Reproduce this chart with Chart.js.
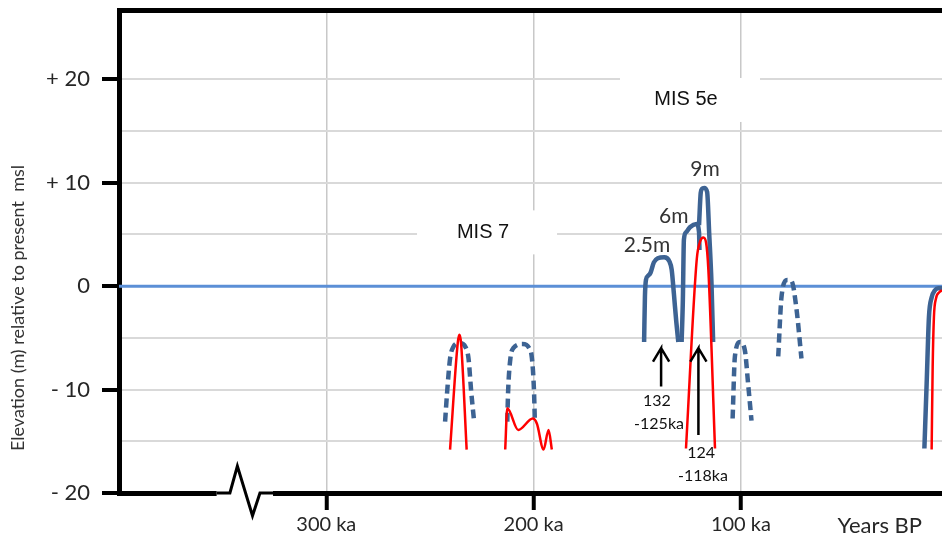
<!DOCTYPE html>
<html>
<head>
<meta charset="utf-8">
<script src="https://cdn.jsdelivr.net/npm/chart.js@4.4.1/dist/chart.umd.min.js"></script>
<style>
  body { margin: 0; background: #fff; }
  #box { width: 942px; height: 542px; position: relative; }
</style>
</head>
<body>
<div id="box"><canvas id="grafico"></canvas></div>
<script>
// x = ka BP (reversed), y = elevation in m relative to present msl
var xTicks = [300, 200, 100, 33];
var xTickLabels = ["300 ka", "200 ka", "100 ka", "Years BP"];
var yTicks = [-20, -15, -10, -5, 0, 5, 10, 15, 20];

var zeroKa = [400, 3];
var zeroM = [0, 0];

// MIS 9 (two highstands)
var dome1Ka = [242.7, 241.7, 240.3, 238.8, 235.8, 232.8, 231.4, 230.1, 228.7];
var dome1M = [-13.1, -10.2, -7.0, -5.9, -5.5, -5.9, -7.0, -10.2, -13.1];
var red1Ka = [240.3, 236.6, 235.8, 235.0, 232.3];
var red1M = [-15.8, -5.5, -4.7, -5.5, -15.8];

var dome2Ka = [212.7, 212.3, 211.2, 209.8, 205.3, 202.1, 200.8, 199.8, 199.4];
var dome2M = [-13.1, -10.2, -7.0, -6.0, -5.6, -6.0, -7.0, -10.2, -13.1];
var red2Ka = [213.7, 212.7, 207.4, 200.4, 198.4, 195.2, 192.8, 191.2];
var red2M = [-15.8, -11.8, -13.9, -12.8, -13.3, -15.8, -13.9, -15.8];

// MIS 5e: 2.5m, 6m, 9m
var e25Ka = [146.7, 146.3, 145.8, 144.8, 143.6, 142.0, 140.1, 137.0, 134.5, 133.4, 132.3, 131.2, 130.2];
var e25M = [-5.4, -1.0, 0.6, 1.0, 1.3, 2.3, 2.7, 2.8, 2.4, 1.6, -0.8, -3.4, -5.4];
var e6Ka = [128.6, 128.0, 127.5, 126.5, 124.6, 121.4, 120.2, 120.0];
var e6M = [-5.4, -1.3, 4.5, 5.2, 5.7, 6.0, 5.2, 3.5];
var e9Ka = [120.2, 119.4, 118.8, 117.7, 116.3, 115.3, 114.2, 113.4];
var e9M = [5.9, 9.0, 9.4, 9.5, 9.1, 5.1, 0.3, -5.4];
var redEKa = [126.5, 121.3, 119.7, 118.1, 116.8, 115.7, 112.5];
var redEM = [-15.7, 2.6, 4.3, 4.7, 4.2, 1.6, -15.7];

// MIS 5c, 5a
var dome3Ka = [104.0, 102.9, 100.5, 98.1, 96.5, 94.9];
var dome3M = [-12.8, -6.8, -5.4, -6.2, -9.5, -13.0];
var dome4Ka = [82.0, 80.4, 77.7, 75.6, 73.2, 70.8];
var dome4M = [-6.8, -1.0, 0.6, 0.5, -2.2, -7.0];

// Holocene
var holoKa = [11.5, 10.4, 9.3, 8.0, 6.4, 4.8, 3.0];
var holoM = [-15.7, -9.4, -3.0, -1.1, -0.4, -0.2, -0.2];
var holoRedKa = [8.0, 7.5, 6.9, 5.9, 4.3, 3.0];
var holoRedM = [-15.8, -7.8, -3.0, -1.2, -0.6, -0.4];

// arrows under MIS 5e
var arrowKa = [138.5, 120.5];
var arrowTop = [-6.0, -6.0];
var arrowBottom = [-9.7, -14.4];

// axis break on the x axis
var breakMaskKa = [352.9, 325.7];
var breakMaskM = [-20, -20];
var breakKa = [352.9, 346.5, 342.9, 335.6, 332.0, 323.9];
var breakM = [-20, -20, -17.4, -22.2, -20, -20];

var misText = ["MIS 7", "MIS 5e"];
var misKa = [224.4, 126.5];
var misM = [5.2, 18.0];

var noteText = ["9m", "6m", "2.5m", "132", "-125ka", "124", "-118ka"];
var noteKa = [117.3, 132.4, 145.3, 140.5, 139.5, 119.2, 118.3];
var noteM = [11.3, 6.8, 4.0, -11.1, -13.3, -16.1, -18.35];

var BLU = '#3d6393';
var ROSSO = '#ff0000';

function punti(ka, m) {
    var out = [];
    for (var i = 0; i < ka.length; i++) out.push({x: ka[i], y: m[i]});
    return out;
}

function freccia(i) {
    var w = 3.9, d = 1.3;
    return [
        {x: arrowKa[i], y: arrowBottom[i]},
        {x: arrowKa[i], y: arrowTop[i]},
        {x: arrowKa[i] + w, y: arrowTop[i] - d},
        {x: arrowKa[i], y: arrowTop[i]},
        {x: arrowKa[i] - w, y: arrowTop[i] - d}
    ];
}

function serie(data, color, width, dash, order) {
    return {
        data: data,
        borderColor: color,
        borderWidth: width,
        borderDash: dash || [],
        pointRadius: 0,
        fill: false,
        cubicInterpolationMode: 'monotone',
        order: order
    };
}

var datasets = [];
datasets.push(serie(punti(zeroKa, zeroM), '#5b8fd6', 3, null, 10));
datasets.push(serie(punti(dome1Ka, dome1M), BLU, 4.5, [9, 5], 6));
datasets.push(serie(punti(dome2Ka, dome2M), BLU, 4.5, [9, 5], 6));
datasets.push(serie(punti(dome3Ka, dome3M), BLU, 4.5, [9, 5], 6));
datasets.push(serie(punti(dome4Ka, dome4M), BLU, 4.5, [9, 5], 6));
datasets.push(serie(punti(e25Ka, e25M), BLU, 4.5, null, 6));
datasets.push(serie(punti(e6Ka, e6M), BLU, 4.5, null, 6));
datasets.push(serie(punti(e9Ka, e9M), BLU, 4.5, null, 6));
datasets.push(serie(punti(holoKa, holoM), BLU, 4.5, null, 6));
datasets.push(serie(punti(red1Ka, red1M), ROSSO, 2.5, null, 5));
datasets.push(serie(punti(red2Ka, red2M), ROSSO, 2.5, null, 5));
datasets.push(serie(punti(redEKa, redEM), ROSSO, 2.5, null, 5));
datasets.push(serie(punti(holoRedKa, holoRedM), ROSSO, 2.5, null, 5));
for (var a = 0; a < arrowKa.length; a++) {
    var f = serie(freccia(a), '#000', 2.5, null, 1);
    f.cubicInterpolationMode = 'default';
    f.tension = 0;
    datasets.push(f);
}
var mask = serie(punti(breakMaskKa, breakMaskM), '#fff', 8, null, 2);
mask.clip = false;
datasets.push(mask);
var zig = serie(punti(breakKa, breakM), '#000', 3, null, 1);
zig.cubicInterpolationMode = 'default';
zig.tension = 0;
zig.clip = false;
datasets.push(zig);

var testi = {
    id: 'testi',
    beforeDatasetsDraw: function(chart) {
        var ctx = chart.ctx, xs = chart.scales.x, ys = chart.scales.y;
        ctx.save();
        ctx.textAlign = 'center';
        ctx.textBaseline = 'middle';
        ctx.font = '20px "Liberation Sans"';
        for (var i = 0; i < misText.length; i++) {
            var px = xs.getPixelForValue(misKa[i]);
            var py = ys.getPixelForValue(misM[i]);
            ctx.fillStyle = '#fff';
            ctx.fillRect(px - 66, py - 22, 140, 44);
            ctx.fillStyle = '#111';
            ctx.fillText(misText[i], px, py);
        }
        ctx.restore();
    },
    afterDatasetsDraw: function(chart) {
        var ctx = chart.ctx, xs = chart.scales.x, ys = chart.scales.y;
        ctx.save();
        ctx.textAlign = 'center';
        ctx.textBaseline = 'middle';
        for (var i = 0; i < noteText.length; i++) {
            ctx.font = (i < 3 ? '21px' : '16px') + ' Lato';
            ctx.fillStyle = i < 3 ? '#333' : '#111';
            ctx.fillText(noteText[i], xs.getPixelForValue(noteKa[i]), ys.getPixelForValue(noteM[i]));
        }
        // y axis title
        ctx.translate(18, 308);
        ctx.rotate(-Math.PI / 2);
        ctx.font = '18px Lato';
        ctx.fillStyle = '#333';
        ctx.fillText('Elevation (m) relative to present  msl', 0, 0);
        ctx.restore();
    }
};

function etichettaY(v) {
    if (v % 10 != 0) return '';
    if (v > 0) return '+ ' + v;
    if (v < 0) return '- ' + Math.abs(v);
    return '0';
}

var ctx = document.getElementById('grafico');
var grafico = new Chart(ctx, {
    type: 'line',
    data: { datasets: datasets },
    plugins: [testi],
    options: {
        responsive: true,
        maintainAspectRatio: false,
        animation: false,
        layout: { padding: 0 },
        plugins: { legend: { display: false }, tooltip: { enabled: false } },
        scales: {
            x: {
                type: 'linear', position: 'bottom', reverse: true, min: 3, max: 400,
                afterBuildTicks: function(s) { s.ticks = xTicks.map(function(v) { return {value: v}; }); },
                afterFit: function(s) { s.height = 49; s.paddingLeft = 0; s.paddingRight = 0; },
                grid: {
                    color: function(c) { return c.index == 3 ? 'rgba(0,0,0,0)' : '#c8c8c8'; },
                    tickColor: function(c) { return c.index == 3 ? 'rgba(0,0,0,0)' : '#000'; },
                    lineWidth: 1.5, tickLength: 17, tickWidth: 4
                },
                border: { color: '#000', width: 5 },
                ticks: {
                    callback: function(v, i) { return xTickLabels[i]; },
                    font: function(c) { return { family: 'Lato', size: c.index == 3 ? 22 : 20 }; },
                    color: '#262626', padding: 3, maxRotation: 0, autoSkip: false
                }
            },
            xTop: {
                type: 'linear', position: 'top', reverse: true, min: 3, max: 400,
                afterFit: function(s) { s.height = 10; s.paddingLeft = 0; s.paddingRight = 0; },
                grid: { display: false, drawTicks: false },
                border: { color: '#000', width: 5 },
                ticks: { display: false }
            },
            y: {
                type: 'linear', min: -20, max: 26.7,
                afterBuildTicks: function(s) { s.ticks = yTicks.map(function(v) { return {value: v}; }); },
                afterFit: function(s) { s.width = 119; s.paddingTop = 0; s.paddingBottom = 0; },
                grid: {
                    color: '#d9d9d9', lineWidth: 2, tickLength: 17, tickWidth: 4,
                    tickColor: function(c) { return c.tick && c.tick.value % 10 == 0 ? '#000' : 'rgba(0,0,0,0)'; }
                },
                border: { color: '#000', width: 5 },
                ticks: {
                    callback: function(v) { return etichettaY(v); },
                    font: { family: 'Lato', size: 22 },
                    color: '#262626', padding: 12, autoSkip: false
                }
            }
        }
    }
});
</script>
</body>
</html>
